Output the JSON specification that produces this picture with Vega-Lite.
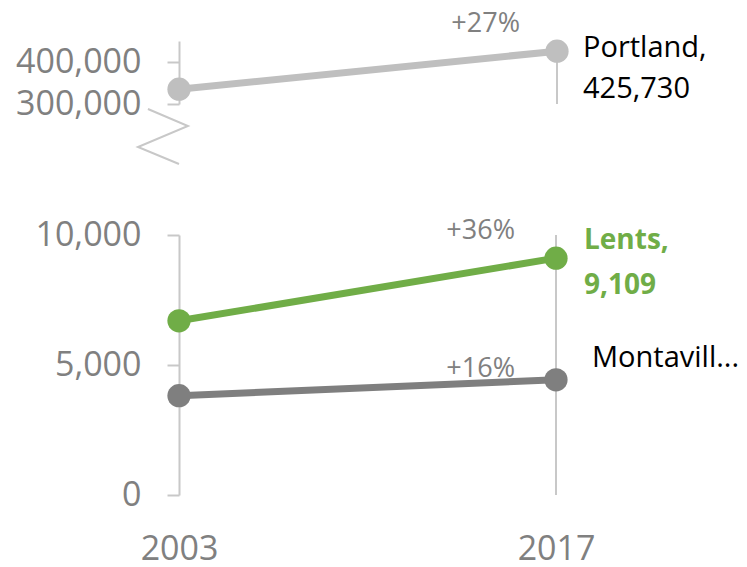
{
  "$schema": "https://vega.github.io/schema/vega-lite/v6.json",
  "background": "white",
  "padding": {"left": 15, "top": 10, "right": 0, "bottom": 0},
  "config": {
    "view": {"stroke": null},
    "font": "Open Sans",
    "axis": {
      "grid": false,
      "domainColor": "#c8c8c8",
      "domainWidth": 2,
      "tickColor": "#c8c8c8",
      "tickWidth": 2,
      "tickSize": 12,
      "labelColor": "#808080",
      "labelFontSize": 34,
      "labelFont": "Open Sans",
      "labelPadding": 26,
      "title": null
    }
  },
  "datasets": {
    "series": [
      {"city": "Portland", "year": 2003, "population": 335200, "change": "", "label": ""},
      {"city": "Portland", "year": 2017, "population": 425730, "change": "+27%", "label": "Portland,\n425,730"},
      {"city": "Lents", "year": 2003, "population": 6700, "change": "", "label": ""},
      {"city": "Lents", "year": 2017, "population": 9109, "change": "+36%", "label": "Lents,\n9,109"},
      {"city": "Montavilla", "year": 2003, "population": 3820, "change": "", "label": ""},
      {"city": "Montavilla", "year": 2017, "population": 4430, "change": "+16%", "label": "Montavill..."}
    ],
    "axisbreak": [
      {"step": 1, "year": 2001.85, "population": 288100},
      {"step": 2, "year": 2003.33, "population": 247600},
      {"step": 3, "year": 2001.48, "population": 197600},
      {"step": 4, "year": 2003.0, "population": 157100}
    ],
    "edge2017": [{"year": 2017}]
  },
  "bounds": "flush",
  "spacing": 131,
  "vconcat": [
    {
      "width": 378,
      "height": 63,
      "layer": [
        {
          "data": {"name": "edge2017"},
          "mark": {"type": "rule", "color": "#c8c8c8", "strokeWidth": 2},
          "encoding": {
            "x": {"field": "year", "type": "quantitative", "scale": {"domain": [2003, 2017]}, "axis": null},
            "y": {"datum": 300000, "type": "quantitative", "scale": {"domain": [300000, 450000]}, "axis": {"values": [300000, 400000], "format": ",d"}},
            "y2": {"datum": 450000}
          }
        },
        {
          "data": {"name": "axisbreak"},
          "mark": {"type": "line", "color": "#c8c8c8", "strokeWidth": 2},
          "encoding": {
            "x": {"field": "year", "type": "quantitative", "scale": {"domain": [2003, 2017]}},
            "y": {"field": "population", "type": "quantitative", "scale": {"domain": [300000, 450000]}},
            "order": {"field": "step"}
          }
        },
        {
          "data": {"name": "series"},
          "transform": [{"filter": "datum.city === 'Portland'"}],
          "encoding": {
            "x": {"field": "year", "type": "quantitative", "scale": {"domain": [2003, 2017]}},
            "y": {"field": "population", "type": "quantitative", "scale": {"domain": [300000, 450000]}}
          },
          "layer": [
            {
              "mark": {"type": "line", "color": "#bfbfbf", "strokeWidth": 7}
            },
            {
              "mark": {"type": "circle", "color": "#bfbfbf", "opacity": 1, "size": 540}
            },
            {
              "transform": [{"filter": "datum.year === 2017"}],
              "mark": {"type": "text", "align": "right", "baseline": "alphabetic", "dx": -37, "dy": -19, "fontSize": 27, "color": "#808080"},
              "encoding": {"text": {"field": "change"}}
            },
            {
              "transform": [{"filter": "datum.year === 2017"}],
              "mark": {"type": "text", "align": "left", "baseline": "alphabetic", "dx": 26, "dy": 6, "fontSize": 29, "lineBreak": "\n", "lineHeight": 41, "color": "#000000"},
              "encoding": {"text": {"field": "label"}}
            }
          ]
        }
      ]
    },
    {
      "width": 377,
      "height": 260,
      "layer": [
        {
          "data": {"name": "edge2017"},
          "mark": {"type": "rule", "color": "#c8c8c8", "strokeWidth": 2},
          "encoding": {
            "x": {"field": "year", "type": "quantitative", "scale": {"domain": [2003, 2017]}, "axis": {"values": [2003, 2017], "format": "d", "domain": false, "ticks": false, "labelFlush": false, "labelPadding": 37}},
            "y": {"datum": 0, "type": "quantitative", "scale": {"domain": [0, 10000]}, "axis": {"values": [0, 5000, 10000], "format": ",d"}},
            "y2": {"datum": 10000}
          }
        },
        {
          "data": {"name": "series"},
          "transform": [{"filter": "datum.city !== 'Portland'"}],
          "encoding": {
            "x": {"field": "year", "type": "quantitative", "scale": {"domain": [2003, 2017]}},
            "y": {"field": "population", "type": "quantitative", "scale": {"domain": [0, 10000]}}
          },
          "layer": [
            {
              "mark": {"type": "line", "strokeWidth": 7},
              "encoding": {
                "color": {"field": "city", "type": "nominal", "scale": {"domain": ["Lents", "Montavilla"], "range": ["#70ad47", "#7f7f7f"]}, "legend": null}
              }
            },
            {
              "mark": {"type": "circle", "opacity": 1, "size": 540},
              "encoding": {
                "color": {"field": "city", "type": "nominal", "legend": null}
              }
            },
            {
              "transform": [{"filter": "datum.year === 2017 && datum.city === 'Lents'"}],
              "mark": {"type": "text", "align": "right", "baseline": "alphabetic", "dx": -41, "dy": -19, "fontSize": 27, "color": "#808080"},
              "encoding": {"text": {"field": "change"}}
            },
            {
              "transform": [{"filter": "datum.year === 2017 && datum.city === 'Montavilla'"}],
              "mark": {"type": "text", "align": "right", "baseline": "alphabetic", "dx": -41, "dy": -3, "fontSize": 27, "color": "#808080"},
              "encoding": {"text": {"field": "change"}}
            },
            {
              "transform": [{"filter": "datum.year === 2017 && datum.city === 'Lents'"}],
              "mark": {"type": "text", "align": "left", "baseline": "alphabetic", "dx": 28, "dy": -9, "fontSize": 28, "fontWeight": "bold", "lineBreak": "\n", "lineHeight": 45, "color": "#70ad47"},
              "encoding": {"text": {"field": "label"}}
            },
            {
              "transform": [{"filter": "datum.year === 2017 && datum.city === 'Montavilla'"}],
              "mark": {"type": "text", "align": "left", "baseline": "alphabetic", "dx": 36, "dy": -13, "fontSize": 29, "color": "#000000"},
              "encoding": {"text": {"field": "label"}}
            }
          ]
        }
      ]
    }
  ]
}
